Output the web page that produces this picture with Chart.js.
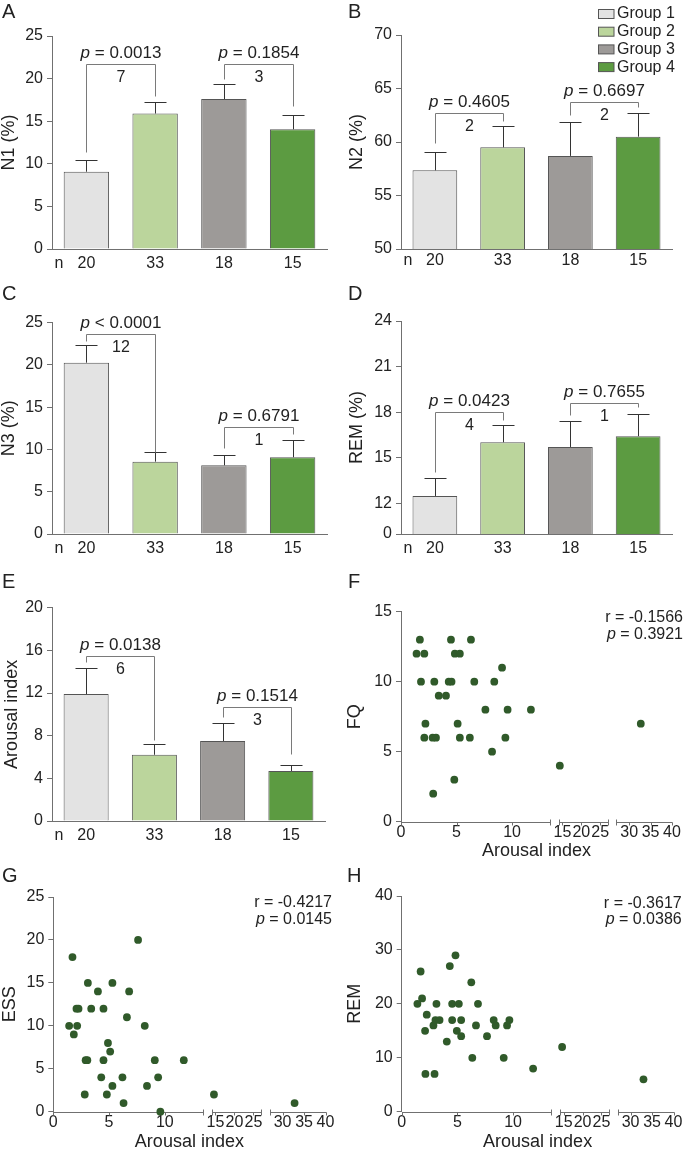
<!DOCTYPE html>
<html>
<head>
<meta charset="utf-8">
<script src="https://cdn.jsdelivr.net/npm/chart.js@4.4.1/dist/chart.umd.min.js"></script>
<style>
  body { margin: 0; background: #fff; }
  #wrap { position: relative; width: 685px; height: 1151px; overflow: hidden; }
  #wrap canvas { position: absolute; }
</style>
</head>
<body>
<div id="wrap"></div>
<script>
// ---- data ----
const groups = ['Group 1', 'Group 2', 'Group 3', 'Group 4'];
const groupN = ['20', '33', '18', '15'];

// bar means and upper end of the error bar (mean + SEM)
const n1Mean = [9.07, 15.9, 17.6, 14.05];
const n1Err  = [10.5, 17.2, 19.4, 15.7];
const n2Mean = [57.35, 59.5, 58.7, 60.5];
const n2Err  = [59.1, 61.5, 61.9, 62.7];
const n3Mean = [20.27, 8.56, 8.13, 9.08];
const n3Err  = [22.33, 9.67, 9.31, 11.12];
const remMean = [12.5, 16.03, 15.72, 16.43];
const remErr  = [13.7, 17.15, 17.4, 17.87];
const aiMean = [11.9, 6.21, 7.5, 4.69];
const aiErr  = [14.37, 7.19, 9.18, 5.22];

// brackets: [from group, to group, top, left leg end, right leg end, p, count]
const n1Brackets = [[0, 1, 21.7, 11.35, 17.9, '= 0.0013', '7'], [2, 3, 21.7, 19.95, 16.8, '= 0.1854', '3']];
const n2Brackets = [[0, 1, 62.7, 59.9, 62.0, '= 0.4605', '2'], [2, 3, 63.7, 62.5, 63.25, '= 0.6697', '2']];
const n3Brackets = [[0, 1, 23.67, 22.84, 9.67, '< 0.0001', '12'], [2, 3, 12.7, 10.2, 11.8, '= 0.6791', '1']];
const remBrackets = [[0, 1, 18.0, 14.1, 17.5, '= 0.0423', '4'], [2, 3, 18.6, 17.8, 18.35, '= 0.7655', '1']];
const aiBrackets = [[0, 1, 15.5, 14.93, 7.56, '= 0.0138', '6'], [2, 3, 10.71, 9.78, 6.28, '= 0.1514', '3']];

// scatter: arousal index vs scores
const fqArousal = [1.4, 1.7, 2.1, 1.8, 3.0, 2.2, 2.1, 2.85, 3.15, 2.9, 3.4, 4.05, 4.3, 4.55, 4.5, 4.85, 5.3, 5.1, 5.3, 4.8, 6.3, 6.2, 6.6, 7.6, 8.2, 8.4, 9.1, 9.4, 9.6, 11.7, 14.3, 32.7];
const fqScore   = [12, 13, 12, 10, 10, 7, 6, 6, 6, 2, 9, 9, 10, 10, 13, 12, 12, 7, 6, 3, 13, 6, 10, 8, 5, 10, 11, 6, 8, 8, 4, 7];
const essArousal = [1.42, 1.72, 1.84, 2.14, 2.08, 2.26, 2.82, 2.9, 3.05, 3.1, 3.4, 4.0, 4.3, 4.5, 4.5, 4.8, 4.9, 5.1, 5.3, 5.3, 6.2, 6.3, 6.6, 6.8, 7.6, 8.2, 8.4, 9.1, 9.4, 9.6, 11.7, 14.6, 32.8];
const essScore   = [10, 18, 9, 10, 12, 12, 2, 6, 6, 15, 12, 14, 4, 12, 6, 2, 8, 7, 15, 3, 4, 1, 11, 14, 20, 10, 3, 6, 4, 0, 6, 2, 1];
const remArousal = [1.41, 1.7, 1.83, 2.1, 2.13, 2.25, 2.85, 2.95, 3.03, 3.12, 3.4, 4.05, 4.32, 4.53, 4.53, 4.83, 4.95, 5.13, 5.34, 5.34, 6.25, 6.34, 6.67, 6.85, 7.66, 8.26, 8.44, 9.16, 9.46, 9.67, 11.8, 14.6, 33.0];
const remScore   = [20, 26, 21, 15, 7, 18, 16, 7, 17, 20, 17, 13, 27, 20, 17, 29, 15, 20, 17, 14, 24, 10, 16, 20, 14, 17, 16, 10, 16, 17, 8, 12, 6];

const arousalTicks = [0, 5, 10, 15, 20, 25, 30, 35, 40];
const corr = {
  F: ['r = -0.1566', '= 0.3921'],
  G: ['r = -0.4217', '= 0.0145'],
  H: ['r = -0.3617', '= 0.0386']
};

// ---- styles ----
const FONT = 'Arial, "Liberation Sans", Helvetica, sans-serif';
const axisColor = '#707070';
const textColor = '#222';
const bracketColor = '#7a7a7a';
const errColor = '#333';
const groupColors = ['#e3e3e3', '#bbd59c', '#9d9a98', '#5c9b41'];
const dotColor = '#305a2a';
Chart.defaults.font.family = FONT;
Chart.defaults.color = textColor;

// broken x axis of the scatter plots: [from, to, display start, display units per value]
const xBreaks = [[0, 13.4, 0, 1], [14, 27, 14.2, 0.34], [27, 40, 19.4, 0.385]];
function brk(v) {
  let s = xBreaks[0];
  xBreaks.forEach(b => { if (v >= b[0]) s = b; });
  return s[2] + (v - s[0]) * s[3];
}
// broken y axis of panel D: 0..12 squeezed into 10..12
const remTf = v => v < 12 ? 10 + v / 6 : v;
const ident = v => v;

const wrap = document.getElementById('wrap');
function makeCanvas(g) {
  const c = document.createElement('canvas');
  c.width = g.w; c.height = g.h;
  c.style.left = g.left + 'px'; c.style.top = g.top + 'px';
  c.style.width = g.w + 'px'; c.style.height = g.h + 'px';
  wrap.appendChild(c);
  return c;
}

function drawP(ctx, rest, x, cy, align, size) {
  const it = 'italic ' + size + 'px ' + FONT, rg = size + 'px ' + FONT;
  ctx.font = it; const w1 = ctx.measureText('p').width;
  ctx.font = rg; const w2 = ctx.measureText(' ' + rest).width;
  const x0 = align === 'right' ? x - w1 - w2 : x - (w1 + w2) / 2;
  ctx.textAlign = 'left'; ctx.textBaseline = 'middle';
  ctx.font = it; ctx.fillText('p', x0, cy);
  ctx.font = rg; ctx.fillText(' ' + rest, x0 + w1, cy);
}

function drawLetter(ctx, o) {
  ctx.fillStyle = textColor;
  ctx.font = '20px ' + FONT;
  ctx.textAlign = 'left'; ctx.textBaseline = 'alphabetic';
  ctx.fillText(o.letter, o.lx, o.ly);
}

const barExtras = {
  id: 'barExtras',
  afterDatasetsDraw(chart, args, o) {
    const { ctx, chartArea } = chart;
    const y = chart.scales.y;
    const meta = chart.getDatasetMeta(0);
    const px = i => Math.round(meta.data[i].x) + 0.5;
    const py = v => Math.round(y.getPixelForValue(o.tf(v))) + 0.5;
    ctx.save();
    ctx.lineWidth = 1;
    // error bars
    ctx.strokeStyle = errColor;
    o.err.forEach((e, i) => {
      const x = px(i), top = py(e);
      ctx.beginPath();
      ctx.moveTo(x, meta.data[i].y); ctx.lineTo(x, top);
      ctx.moveTo(x - 11, top); ctx.lineTo(x + 11, top);
      ctx.stroke();
    });
    // brackets
    o.brackets.forEach(([i, j, top, l, r, p, n]) => {
      const xi = px(i), xj = px(j), yt = py(top);
      ctx.strokeStyle = bracketColor;
      ctx.beginPath();
      ctx.moveTo(xi, py(l)); ctx.lineTo(xi, yt); ctx.lineTo(xj, yt); ctx.lineTo(xj, py(r));
      ctx.stroke();
      const cx = (xi + xj) / 2;
      ctx.fillStyle = textColor;
      drawP(ctx, p, cx, yt - 11, 'center', 17);
      ctx.font = '16px ' + FONT; ctx.textAlign = 'center'; ctx.textBaseline = 'middle';
      ctx.fillText(n, cx, yt + 13);
    });
    // "n" before group sizes
    ctx.fillStyle = textColor;
    ctx.font = '16px ' + FONT; ctx.textAlign = 'center'; ctx.textBaseline = 'middle';
    ctx.fillText('n', chartArea.left + 7, chartArea.bottom + o.nOff);
    // legend
    if (o.legend) {
      groups.forEach((g, i) => {
        const top = 9.5 + i * 17.7;
        ctx.fillStyle = groupColors[i];
        ctx.fillRect(258.5, top, 15.5, 9);
        ctx.strokeStyle = '#555';
        ctx.strokeRect(258.5, top, 15.5, 9);
        ctx.fillStyle = textColor;
        ctx.font = '16px ' + FONT; ctx.textAlign = 'left'; ctx.textBaseline = 'middle';
        ctx.fillText(g, 277, top + 4.5);
      });
    }
    drawLetter(ctx, o);
    ctx.restore();
  }
};

function barPanel(g, mean, err, brackets, axis, tf) {
  new Chart(makeCanvas(g), {
    type: 'bar',
    data: {
      labels: groupN,
      datasets: [{
        data: mean.map(tf),
        backgroundColor: groupColors,
        borderColor: '#555',
        borderWidth: 1,
        barPercentage: 0.66,
        categoryPercentage: 1
      }]
    },
    options: {
      responsive: false, animation: false, devicePixelRatio: 1,
      layout: { padding: { top: g.pt, right: g.pr, left: 0, bottom: 0 } },
      plugins: {
        legend: { display: false }, tooltip: { enabled: false },
        barExtras: { err, brackets, tf, letter: g.letter, lx: g.lx, ly: g.ly, legend: g.legend, nOff: g.xp + 9.6 }
      },
      scales: {
        x: {
          grid: { display: false, drawTicks: false, tickLength: 0 },
          border: { color: axisColor },
          ticks: { font: { size: 16 }, padding: g.xp, color: textColor },
          afterFit: s => { s.height = g.xh; }
        },
        y: {
          min: axis.min, max: axis.max,
          afterBuildTicks: axis.ticks ? s => { s.ticks = axis.ticks.map(v => ({ value: v })); } : undefined,
          ticks: {
            stepSize: axis.step, font: { size: 16 }, padding: 4, color: textColor,
            callback: axis.label || (v => v)
          },
          grid: { drawOnChartArea: false, tickLength: 5, color: axisColor },
          border: { color: axisColor },
          title: { display: true, text: axis.title, font: { size: 18, lineHeight: 1 }, padding: { top: g.tp, bottom: 0 }, color: textColor },
          afterFit: s => { s.width = g.yw; }
        }
      }
    },
    plugins: [barExtras]
  });
}

const scatterExtras = {
  id: 'scatterExtras',
  beforeDatasetsDraw(chart) {
    const { ctx, chartArea } = chart;
    const x = chart.scales.x;
    const yy = Math.round(chartArea.bottom) + 0.5;
    ctx.save();
    ctx.strokeStyle = axisColor; ctx.lineWidth = 1;
    xBreaks.forEach((b, k) => {
      const x0 = Math.round(x.getPixelForValue(b[2])) + 0.5;
      const x1 = Math.round(x.getPixelForValue(b[2] + (b[1] - b[0]) * b[3])) + 0.5;
      ctx.beginPath();
      ctx.moveTo(x0 - 0.5, yy); ctx.lineTo(x1, yy);
      if (k > 0) { ctx.moveTo(x0, yy - 3); ctx.lineTo(x0, yy + 3); }
      if (k < xBreaks.length - 1) { ctx.moveTo(x1, yy - 3); ctx.lineTo(x1, yy + 3); }
      ctx.stroke();
    });
    arousalTicks.forEach(v => {
      const px = Math.round(x.getPixelForValue(brk(v))) + 0.5;
      ctx.beginPath(); ctx.moveTo(px, yy); ctx.lineTo(px, yy + 3); ctx.stroke();
    });
    ctx.restore();
  },
  afterDatasetsDraw(chart, args, o) {
    const { ctx } = chart;
    ctx.save();
    ctx.fillStyle = textColor;
    ctx.font = '16px ' + FONT; ctx.textAlign = 'right'; ctx.textBaseline = 'middle';
    ctx.fillText(o.r, o.tx, o.ty);
    drawP(ctx, o.p, o.tx, o.ty + 16.5, 'right', 16);
    drawLetter(ctx, o);
    ctx.restore();
  }
};

function scatterPanel(g, xs, ys, axis, c) {
  new Chart(makeCanvas(g), {
    type: 'scatter',
    data: {
      datasets: [{
        data: xs.map((v, i) => ({ x: brk(v), y: ys[i] })),
        backgroundColor: dotColor,
        pointRadius: 3.9,
        pointBorderWidth: 0,
        clip: false
      }]
    },
    options: {
      responsive: false, animation: false, devicePixelRatio: 1,
      layout: { padding: { top: g.pt, right: g.pr, left: 0, bottom: 0 } },
      plugins: {
        legend: { display: false }, tooltip: { enabled: false },
        scatterExtras: { r: c[0], p: c[1], tx: g.tx, ty: g.ty, letter: g.letter, lx: g.lx, ly: g.ly }
      },
      scales: {
        x: {
          type: 'linear', min: 0, max: brk(40),
          afterBuildTicks: s => { s.ticks = arousalTicks.map(v => ({ value: brk(v) })); },
          ticks: {
            autoSkip: false, maxRotation: 0, minRotation: 0, padding: 1.5,
            font: { size: 16 }, color: textColor,
            callback: (v, i) => arousalTicks[i]
          },
          grid: { display: false, drawTicks: false, tickLength: 0 },
          border: { display: false },
          title: { display: true, text: 'Arousal index', font: { size: 18, lineHeight: 1 }, padding: 0, color: textColor },
          afterFit: s => { s.height = g.xh; }
        },
        y: {
          min: axis.min, max: axis.max,
          ticks: { stepSize: axis.step, font: { size: 16 }, padding: 4, color: textColor },
          grid: { drawOnChartArea: false, tickLength: 5, color: axisColor },
          border: { color: axisColor },
          title: { display: true, text: axis.title, font: { size: 18, lineHeight: 1 }, padding: { top: g.tp, bottom: 0 }, color: textColor },
          afterFit: s => { s.width = g.yw; }
        }
      }
    },
    plugins: [scatterExtras]
  });
}

// ---- panels ----
barPanel({ left: 0, top: 0, w: 340, h: 280, yw: 52, pt: 36, pr: 13, xh: 31, xp: 5, tp: 0, letter: 'A', lx: 2, ly: 18 },
  n1Mean, n1Err, n1Brackets, { min: 0, max: 25, step: 5, title: 'N1 (%)' }, ident);
barPanel({ left: 340, top: 0, w: 345, h: 280, yw: 61, pt: 35, pr: 13, xh: 31, xp: 1.5, tp: 8.5, letter: 'B', lx: 8, ly: 18, legend: true },
  n2Mean, n2Err, n2Brackets, { min: 50, max: 70, step: 5, title: 'N2 (%)' }, ident);
barPanel({ left: 0, top: 280, w: 340, h: 280, yw: 52, pt: 42.7, pr: 13, xh: 26, xp: 5, tp: 0, letter: 'C', lx: 2, ly: 20 },
  n3Mean, n3Err, n3Brackets, { min: 0, max: 25, step: 5, title: 'N3 (%)' }, ident);
barPanel({ left: 340, top: 280, w: 345, h: 280, yw: 61, pt: 41, pr: 13, xh: 26, xp: 5, tp: 7.7, letter: 'D', lx: 8, ly: 20 },
  remMean, remErr, remBrackets,
  { min: 10, max: 24, ticks: [10, 12, 15, 18, 21, 24], label: v => (v === 10 ? '0' : v), title: 'REM (%)' }, remTf);
barPanel({ left: 0, top: 560, w: 340, h: 290, yw: 52, pt: 47.7, pr: 15, xh: 29, xp: 5, tp: 3, letter: 'E', lx: 2, ly: 28 },
  aiMean, aiErr, aiBrackets, { min: 0, max: 20, step: 4, title: 'Arousal index' }, ident);

scatterPanel({ left: 340, top: 560, w: 345, h: 300, yw: 61, pt: 51.7, pr: 13, xh: 38.3, tp: 6, letter: 'F', lx: 8, ly: 28, tx: 343, ty: 58 },
  fqArousal, fqScore, { min: 0, max: 15, step: 5, title: 'FQ' }, corr.F);
scatterPanel({ left: 0, top: 850, w: 340, h: 301, yw: 53.3, pt: 47, pr: 14.5, xh: 39.3, tp: 1, letter: 'G', lx: 2, ly: 32, tx: 332, ty: 53 },
  essArousal, essScore, { min: 0, max: 25, step: 5, title: 'ESS' }, corr.G);
scatterPanel({ left: 340, top: 850, w: 345, h: 301, yw: 61.7, pt: 46, pr: 11.5, xh: 39.3, tp: 6, letter: 'H', lx: 7, ly: 32, tx: 341.7, ty: 53.3 },
  remArousal, remScore, { min: 0, max: 40, step: 10, title: 'REM' }, corr.H);
</script>
</body>
</html>
